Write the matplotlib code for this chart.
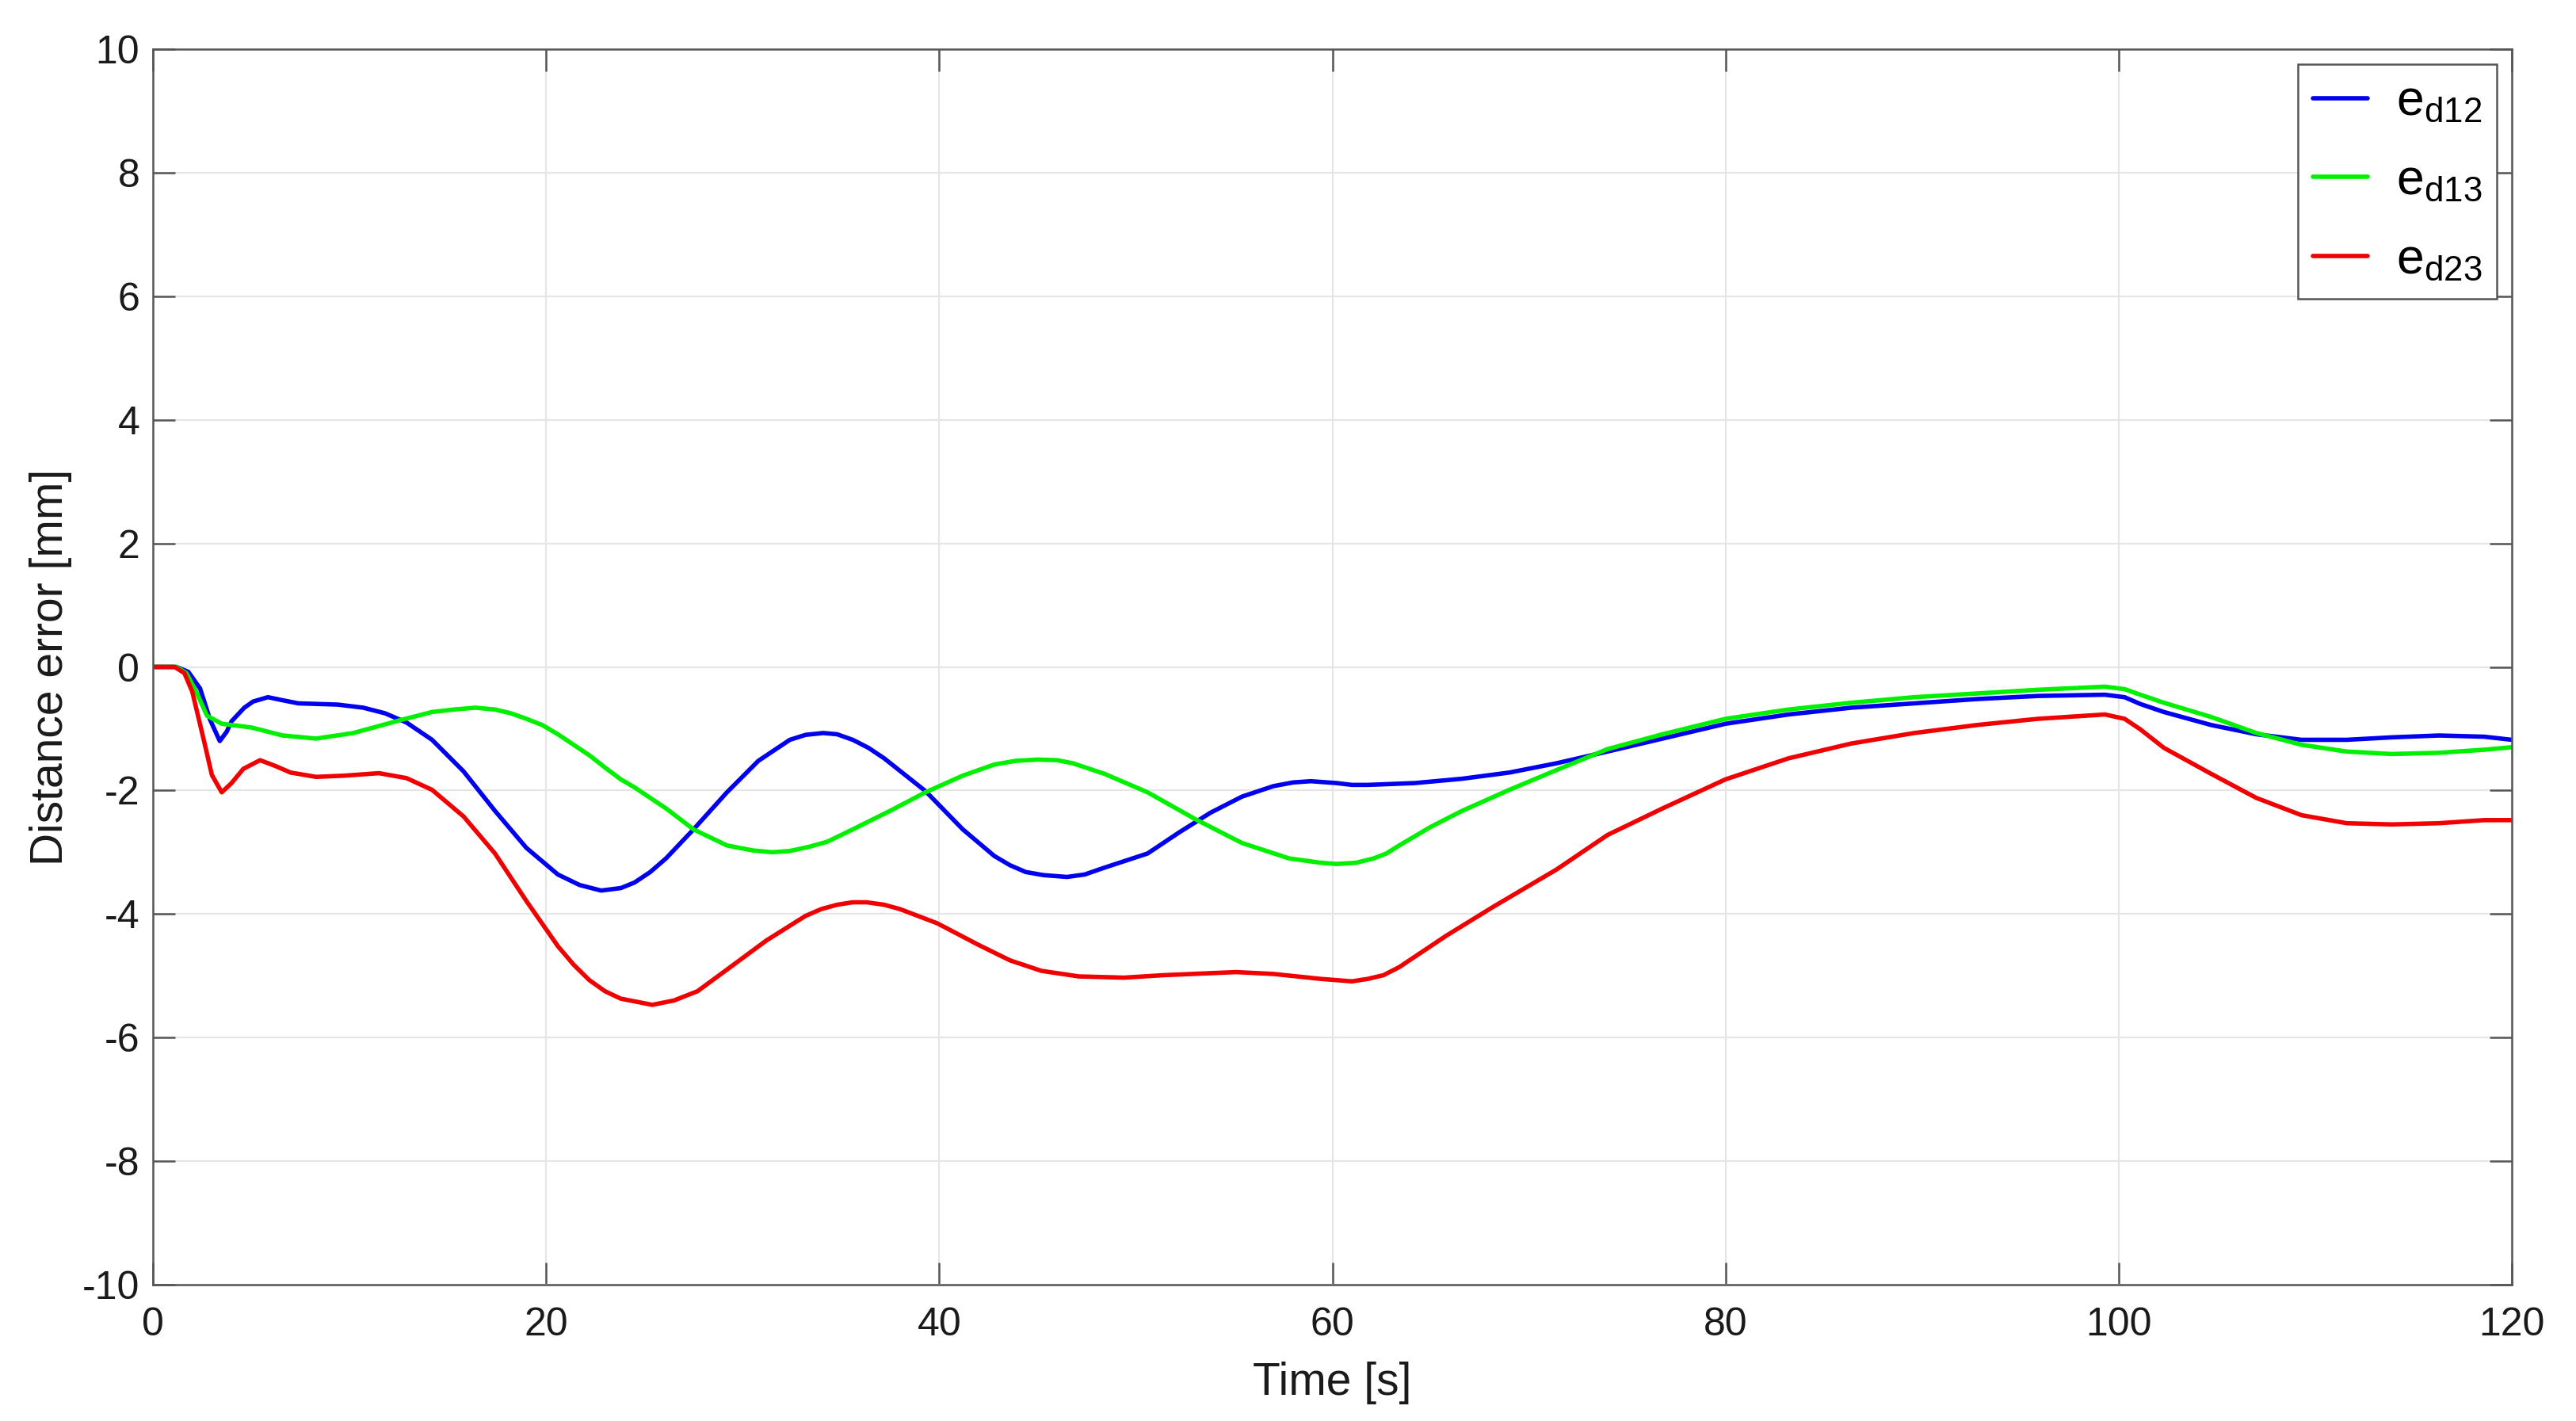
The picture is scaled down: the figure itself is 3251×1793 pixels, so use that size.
import matplotlib
matplotlib.use("Agg")
import matplotlib.pyplot as plt

plt.rcParams["font.family"] = ["Liberation Sans", "DejaVu Sans"]
plt.rcParams["mathtext.fontset"] = "custom"
plt.rcParams["mathtext.rm"] = "Liberation Sans"
plt.rcParams["mathtext.it"] = "Liberation Sans"
plt.rcParams["axes.unicode_minus"] = False

# values (time [s], error [mm])
t_d12 = [0, 1.2, 1.8, 2.4, 2.9, 3.4, 3.75, 4.0, 4.65, 5.1, 5.85, 6.6, 7.4, 9.4, 10.7,
         11.8, 12.9, 14.2, 15.8, 17.4, 19.0, 20.6, 21.7, 22.8, 23.8, 24.5, 25.3, 26.1,
         27.5, 29.2, 30.8, 32.4, 33.2, 34.1, 34.8, 35.6, 36.4, 37.2, 39.3, 41.2, 42.8,
         43.6, 44.4, 45.3, 46.5, 47.4, 48.4, 50.6, 52.2, 53.8, 55.4, 57.0, 58.0, 58.9,
         60.2, 61.0, 61.8, 64.2, 66.6, 69.0, 71.4, 74.0, 76.8, 80.0, 83.2, 86.4, 89.6,
         92.8, 95.9, 99.3, 100.3, 101.1, 102.3, 104.7, 107.0, 109.3, 111.6, 113.9,
         116.3, 118.6, 120]
e_d12 = [0, 0, -0.08, -0.35, -0.85, -1.20, -1.05, -0.88, -0.66, -0.56, -0.49, -0.54,
         -0.59, -0.61, -0.66, -0.75, -0.90, -1.18, -1.69, -2.33, -2.93, -3.36, -3.53,
         -3.62, -3.58, -3.49, -3.32, -3.10, -2.63, -2.03, -1.52, -1.18, -1.10, -1.07,
         -1.09, -1.18, -1.31, -1.48, -2.01, -2.63, -3.06, -3.21, -3.32, -3.37, -3.40,
         -3.36, -3.25, -3.02, -2.68, -2.36, -2.10, -1.93, -1.87, -1.85, -1.88, -1.91,
         -1.91, -1.88, -1.81, -1.71, -1.56, -1.37, -1.16, -0.92, -0.77, -0.66, -0.59,
         -0.52, -0.47, -0.45, -0.49, -0.60, -0.73, -0.94, -1.09, -1.18, -1.18, -1.14,
         -1.11, -1.13, -1.18]

t_d13 = [0, 1.2, 1.7, 2.2, 2.75, 3.5, 5.0, 6.6, 8.3, 10.2, 12.6, 14.2, 15.3, 16.4,
         17.4, 18.2, 19.0, 19.8, 20.6, 21.4, 22.2, 23.0, 23.8, 24.5, 26.1, 27.5, 29.2,
         30.5, 31.5, 32.4, 33.4, 34.3, 35.6, 37.5, 39.3, 41.2, 42.8, 43.9, 45.0, 46.0,
         46.8, 48.4, 50.6, 53.0, 55.4, 57.8, 59.4, 60.2, 61.2, 62.1, 62.75, 63.4, 65.0,
         66.6, 69.0, 71.4, 74.0, 76.8, 80.0, 83.2, 86.4, 89.6, 92.8, 95.9, 99.3, 100.3,
         101.1, 102.3, 104.7, 107.0, 109.3, 111.6, 113.9, 116.3, 118.6, 120]
e_d13 = [0, 0, -0.10, -0.40, -0.79, -0.92, -0.98, -1.11, -1.16, -1.07, -0.86, -0.73,
         -0.69, -0.66, -0.69, -0.75, -0.84, -0.94, -1.09, -1.26, -1.43, -1.63, -1.82,
         -1.95, -2.29, -2.63, -2.89, -2.97, -3.00, -2.98, -2.91, -2.83, -2.63, -2.33,
         -2.03, -1.76, -1.58, -1.52, -1.50, -1.51, -1.56, -1.73, -2.03, -2.46, -2.85,
         -3.10, -3.17, -3.19, -3.17, -3.10, -3.02, -2.89, -2.59, -2.33, -1.99, -1.67,
         -1.33, -1.09, -0.84, -0.69, -0.58, -0.49, -0.43, -0.37, -0.32, -0.36, -0.45,
         -0.58, -0.81, -1.07, -1.26, -1.37, -1.41, -1.39, -1.34, -1.30]

t_d23 = [0, 1.1, 1.6, 2.0, 2.6, 3.0, 3.5, 4.0, 4.6, 5.45, 6.2, 7.0, 8.3, 9.75, 11.5,
         12.9, 14.2, 15.8, 17.4, 19.0, 20.6, 21.4, 22.2, 23.0, 23.8, 25.4, 26.5, 27.7,
         29.2, 31.2, 33.2, 34.0, 34.8, 35.6, 36.3, 37.2, 38.0, 39.9, 42.0, 43.6, 45.2,
         47.1, 49.4, 51.4, 55.1, 57.0, 59.4, 61.0, 61.8, 62.6, 63.4, 64.2, 65.8, 68.2,
         71.4, 74.0, 76.8, 80.0, 83.2, 86.4, 89.6, 92.8, 95.9, 99.3, 100.3, 101.1,
         102.3, 104.7, 107.0, 109.3, 111.6, 113.9, 116.3, 118.6, 120]
e_d23 = [0, 0, -0.10, -0.40, -1.20, -1.75, -2.03, -1.88, -1.65, -1.51, -1.60, -1.71,
         -1.78, -1.76, -1.72, -1.80, -1.99, -2.42, -3.02, -3.79, -4.52, -4.82, -5.07,
         -5.25, -5.37, -5.47, -5.40, -5.25, -4.90, -4.43, -4.03, -3.92, -3.85, -3.81,
         -3.81, -3.85, -3.92, -4.15, -4.50, -4.75, -4.92, -5.01, -5.03, -4.99, -4.94,
         -4.97, -5.05, -5.09, -5.05, -4.99, -4.86, -4.69, -4.35, -3.88, -3.28, -2.72,
         -2.29, -1.82, -1.48, -1.24, -1.07, -0.94, -0.84, -0.77, -0.84, -1.01, -1.31,
         -1.73, -2.12, -2.40, -2.53, -2.55, -2.53, -2.48, -2.48]

labels = [r"$\mathregular{e_{d12}}$", r"$\mathregular{e_{d13}}$", r"$\mathregular{e_{d23}}$"]
colors = ["#0000f0", "#00f000", "#f00000"]

fig = plt.figure(figsize=(3251 / 200, 1793 / 200), dpi=200)
ax = fig.add_axes([193 / 3251, 1 - 1621 / 1793, (3170 - 193) / 3251, (1621 - 62) / 1793])

for t, e, lab, c in zip([t_d12, t_d13, t_d23], [e_d12, e_d13, e_d23], labels, colors):
    ax.plot(t, e, color=c, lw=2.0, label=lab, solid_joinstyle="round",
            solid_capstyle="round")

ax.set_xlim(0, 120)
ax.set_ylim(-10, 10)
ax.set_xticks(range(0, 121, 20))
ax.set_yticks(range(-10, 11, 2))
ax.grid(True, color="#e6e6e6", lw=0.8)
ax.set_axisbelow(True)
for s in ax.spines.values():
    s.set_color("#555555")
    s.set_linewidth(0.9)
ax.tick_params(direction="in", length=10, width=0.9, color="#555555",
               top=True, right=True, labelsize=18, labelcolor="#1a1a1a")
ax.tick_params(axis="x", pad=10)
ax.tick_params(axis="y", pad=6)
ax.set_xlabel("Time [s]", fontsize=20.5, color="#1a1a1a", labelpad=8.5)
ax.set_ylabel("Distance error [mm]", fontsize=20.5, color="#1a1a1a", labelpad=4.5)

leg = ax.legend(loc="upper right", fontsize=22.5, frameon=True, fancybox=False,
                edgecolor="#555555", framealpha=1, handlelength=1.1,
                handletextpad=0.58, labelspacing=0.65, borderaxespad=0.3,
                borderpad=0.3)
leg.get_frame().set_linewidth(0.9)
for h in leg.get_lines():
    h.set_linewidth(2.0)

fig.savefig("out.png", dpi=200, facecolor="white")
